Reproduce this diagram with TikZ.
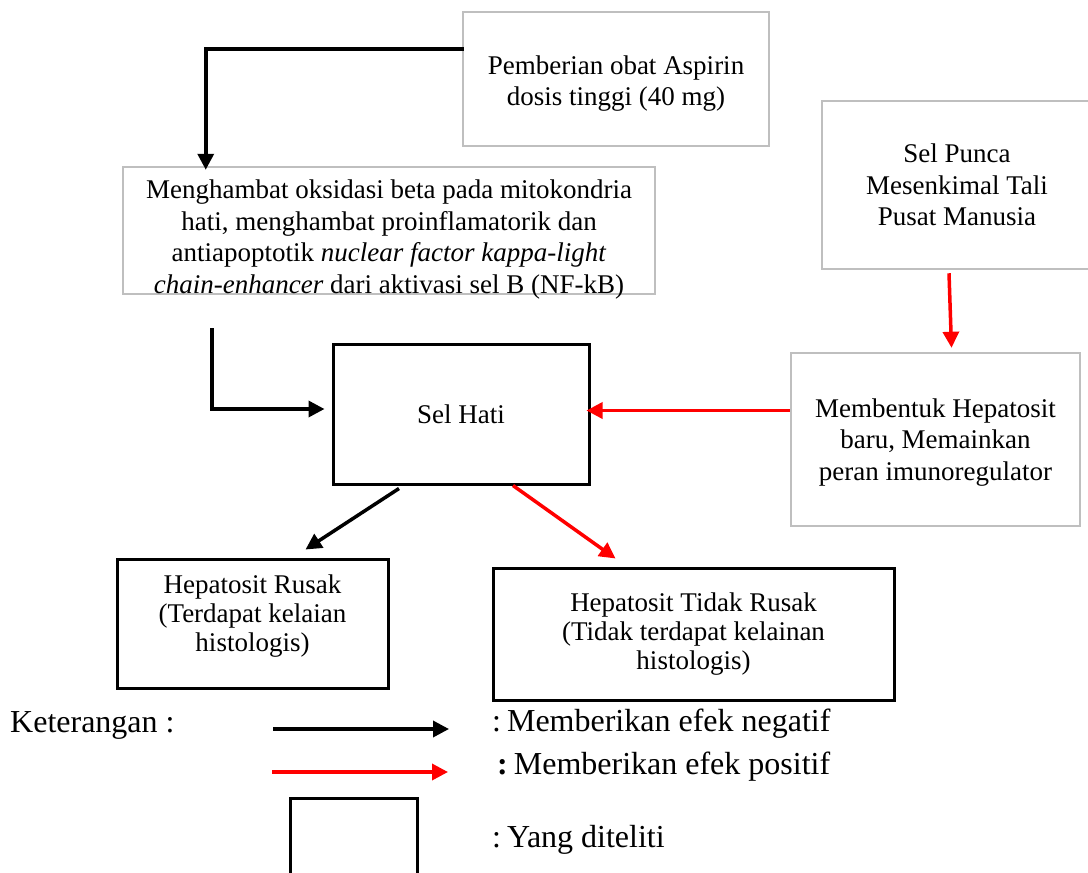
\documentclass[tikz,border=0pt]{standalone}
\usepackage{fontspec}
\setmainfont{Liberation Serif}
\usetikzlibrary{arrows.meta}

\begin{document}
\begin{tikzpicture}[x=1pt,y=-1pt]
\tikzstyle{kotakabu}=[rectangle,draw=black!25,line width=2.5pt,align=center,font=\fontsize{27}{31.5}\selectfont]
\tikzstyle{kotakhitam}=[rectangle,draw=black,line width=3pt,align=center,font=\fontsize{27}{29}\selectfont]
\tikzstyle{isikotak}=[align=center,inner sep=0pt,font=\fontsize{27}{31.5}\selectfont]
\tikzstyle{panahhitam}=[draw=black,line width=3.5pt,-{Triangle[length=16pt,width=16pt]}]
\tikzstyle{panahmerah}=[draw=red,line width=3.5pt,-{Triangle[length=16pt,width=16pt]}]
\tikzstyle{keterangan}=[anchor=base west,inner sep=0pt,font=\fontsize{32}{36}\selectfont]
\clip (0,0) rectangle (1088,873);

\node[kotakabu,minimum width=306pt,minimum height=134pt] (aspirin) at (616,79)
    {\rule{0pt}{28pt}Pemberian obat Aspirin\\dosis tinggi (40 mg)};
\node[kotakabu,minimum width=532pt,minimum height=127pt,
    label={[isikotak,yshift=-9pt]center:Menghambat oksidasi beta pada mitokondria\\hati, menghambat proinflamatorik dan\\antiapoptotik \textit{nuclear factor kappa-light}\\\textit{chain-enhancer} dari aktivasi sel B (NF-kB)}] (hambat) at (389,230.5) {};
\node[kotakabu,minimum width=270pt,minimum height=168pt] (punca) at (957,185)
    {Sel Punca\\Mesenkimal Tali\\Pusat Manusia};
\node[kotakabu,minimum width=289pt,minimum height=173pt] (bentuk) at (935.5,439.5)
    {\rule{0pt}{24pt}Membentuk Hepatosit\\baru, Memainkan\\peran imunoregulator};
\node[kotakhitam,minimum width=256pt,minimum height=140pt] (selhati) at (461,414)
    {Sel Hati};
\node[kotakhitam,minimum width=271pt,minimum height=129pt] (rusak) at (252.5,623.5)
    {Hepatosit Rusak\\(Terdapat kelaian\\histologis)\rule[-20pt]{0pt}{1pt}};
\node[kotakhitam,minimum width=401pt,minimum height=132pt] (tidakrusak) at (693.5,634)
    {Hepatosit Tidak Rusak\\(Tidak terdapat kelainan\\histologis)};

\draw[panahhitam,line cap=rect] ([yshift=30pt]aspirin.west) -| ([xshift=84pt,yshift=-4pt]hambat.north west);
\draw[panahhitam,line cap=rect] ([xshift=90pt,yshift=-34pt]hambat.south west) |- ([xshift=-7pt,yshift=5pt]selhati.west);
\draw[panahmerah] ([xshift=-8pt,yshift=-3pt]punca.south) -- ([xshift=16pt,yshift=4pt]bentuk.north);
\draw[panahmerah] ([yshift=29pt]bentuk.west) -- ([xshift=-4pt,yshift=29pt]bentuk.west -| selhati.east);
\draw[panahhitam] ([xshift=-62pt,yshift=-3pt]selhati.south) -- ([xshift=53pt,yshift=8pt]rusak.north);
\draw[panahmerah] ([xshift=52pt]selhati.south) -- ([xshift=-78pt,yshift=8pt]tidakrusak.north);

\node[keterangan] (ket) at (10,732) {Keterangan :};
\coordinate (hitamawal) at (273,729);
\coordinate (hitamakhir) at (449,729);
\coordinate (merahawal) at (272,772);
\coordinate (merahakhir) at (448,772);
\draw[panahhitam] (hitamawal) -- (hitamakhir);
\draw[panahmerah] (merahawal) -- (merahakhir);
\node[keterangan] (negatif) at (492,731) {:\hspace{6pt}Memberikan efek negatif};
\node[keterangan] (positif) at (497,774) {\textbf{:}\hspace{6pt}Memberikan efek positif};
\node[kotakhitam,minimum width=127pt,minimum height=110pt,anchor=north west] (contoh) at (289,797) {};
\node[keterangan] (diteliti) at (492,847) {:\hspace{6pt}Yang diteliti};
\end{tikzpicture}
\end{document}
